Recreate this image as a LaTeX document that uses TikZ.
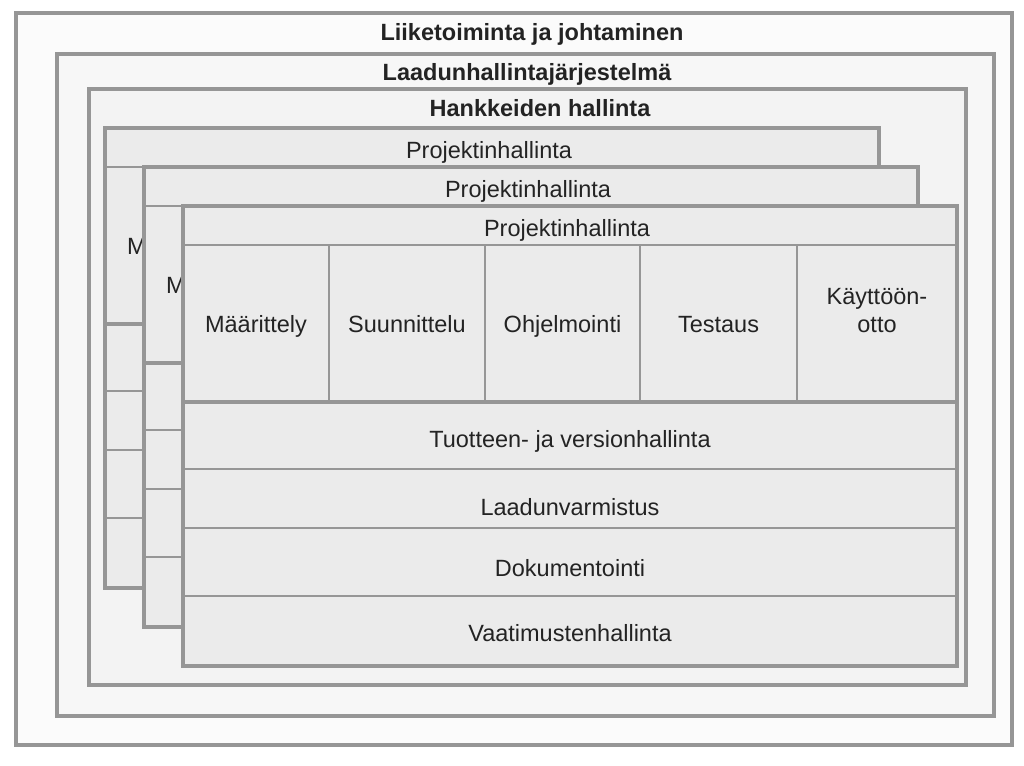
\documentclass[tikz,border=0pt]{standalone}
\usepackage{fontspec}
\setmainfont{Liberation Sans}
\usetikzlibrary{positioning}

\definecolor{framegray}{RGB}{150,150,150}
\definecolor{fillone}{RGB}{251,251,251}
\definecolor{filltwo}{RGB}{247,247,247}
\definecolor{fillthree}{RGB}{243,243,243}
\definecolor{stackfill}{RGB}{235,235,235}
\definecolor{inkgray}{RGB}{35,35,35}

\begin{document}
\begin{tikzpicture}[
        x=1pt, y=-1pt,
        font=\fontsize{23.5}{28}\selectfont,
        frame/.style={draw=framegray, line width=3.5pt},
        divider/.style={draw=framegray, line width=2pt},
        thickdiv/.style={draw=framegray, line width=3.5pt},
        lbl/.style={text=inkgray, inner sep=0pt, align=center,
            text height=17pt, text depth=5pt},
        title/.style={lbl, font=\fontsize{23.5}{28}\selectfont\bfseries}
        ]

        \useasboundingbox (0,0) rectangle (1024,765);

        % --- Stack size ---
        \def\sw{774}
        \def\sh{460}

        % --- Outer frames ---
        \filldraw[frame, fill=fillone] (16,13) rectangle (1012,745);
        \filldraw[frame, fill=filltwo] (57,54) rectangle (994,716);
        \filldraw[frame, fill=fillthree] (89,89) rectangle (966,685);

        \node[title] (business) at (532,35) {Liiketoiminta ja johtaminen};
        \node[title] (quality) at (527,75) {Laadunhallintajärjestelmä};
        \node[title] (projects) at (540,111) {Hankkeiden hallinta};

        % --- Project stacks, back to front ---
        \foreach \s/\sx/\sy in {1/105/128, 2/144/167, 3/183/206} {
            \begin{scope}[shift={(\sx,\sy)}]
                \fill[stackfill] (0,0) rectangle (\sw,\sh);
                \draw[divider] (0,39) -- (\sw,39);
                \draw[thickdiv] (0,196) -- (\sw,196);
                \foreach \ry in {263, 322, 390}
                    \draw[divider] (0,\ry) -- (\sw,\ry);
                \foreach \cx in {146, 302, 457, 614}
                    \draw[divider] (\cx,39) -- (\cx,196);
                \draw[frame] (0,0) rectangle (\sw,\sh);

                \node[lbl] (head-\s) at (384,24) {Projektinhallinta};
                \node[lbl] (phase-\s-1) at (73,120) {Määrittely};

                % only the front stack shows its other labels
                \ifnum\s=3
                    \foreach \c/\px/\txt in {2/224/Suunnittelu,
                            3/379.5/Ohjelmointi, 4/535.5/Testaus,
                            5/694/{Käyttöön-\\otto}}
                        \node[lbl] (phase-\s-\c) at (\px,120) {\txt};

                    \foreach \r/\py/\txt in {1/235/Tuotteen- ja versionhallinta,
                            2/303/Laadunvarmistus, 3/364/Dokumentointi,
                            4/429/Vaatimustenhallinta}
                        \node[lbl] (row-\s-\r) at (387,\py) {\txt};
                \fi
            \end{scope}
        }

\end{tikzpicture}
\end{document}
